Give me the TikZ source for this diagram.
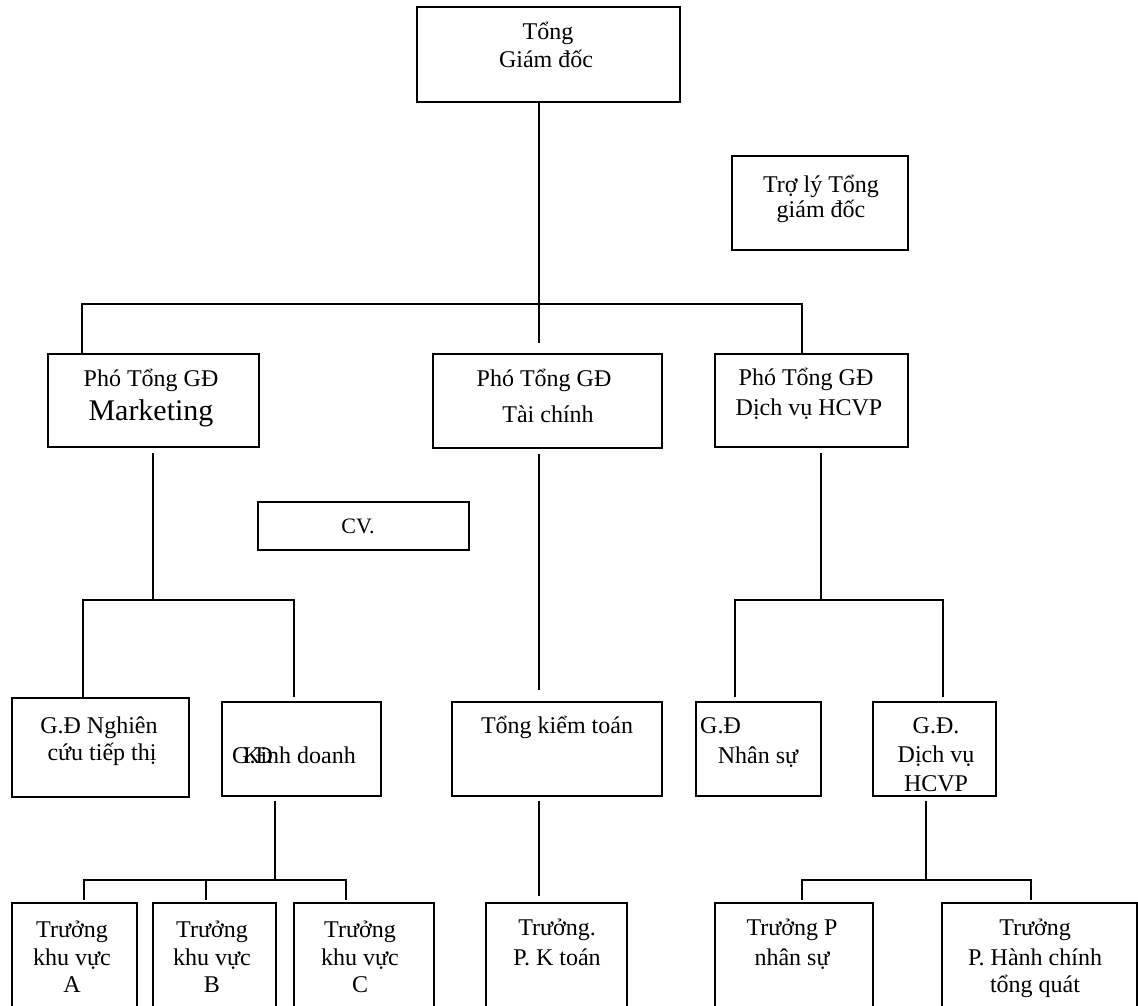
\documentclass[tikz,border=0pt]{standalone}
\usepackage{fontspec}
\setmainfont{Liberation Serif}
\begin{document}
\begin{tikzpicture}[x=1pt,y=-1pt,
  box/.style={draw, line width=1.8pt, inner sep=0pt, outer sep=0pt},
  con/.style={line width=1.8pt},
  txt/.style={inner sep=0pt, anchor=base, font=\fontsize{24}{28}\selectfont},
  txtl/.style={txt, anchor=base west},
  big/.style={txt, font=\fontsize{30}{34}\selectfont}]
\useasboundingbox (0,0) rectangle (1138,1006);
\fill[white] (0,0) rectangle (1138,1006);
\clip (0,0) rectangle (1138,1006);

% ---- boxes ----
\node[box, minimum width=263pt, minimum height=95pt] (top) at (548.5,54.5) {};
\node[box, minimum width=176pt, minimum height=94pt] (troly) at (820,203) {};
\node[box, minimum width=211pt, minimum height=93pt] (mkt) at (153.5,400.5) {};
\node[box, minimum width=229pt, minimum height=94pt] (tc) at (547.5,401) {};
\node[box, minimum width=193pt, minimum height=93pt] (hcvp) at (811.5,400.5) {};
\node[box, minimum width=211pt, minimum height=48pt] (cv) at (363.5,526) {};
\node[box, minimum width=177pt, minimum height=99pt] (ncu) at (100.5,747.5) {};
\node[box, minimum width=159pt, minimum height=94pt] (kd) at (301.5,749) {};
\node[box, minimum width=210pt, minimum height=94pt] (tkt) at (557,749) {};
\node[box, minimum width=125pt, minimum height=94pt] (ns) at (758.5,749) {};
\node[box, minimum width=123pt, minimum height=94pt] (dv) at (934.5,749) {};
\node[box, minimum width=125pt, minimum height=127pt] (bA) at (74.5,966.5) {};
\node[box, minimum width=123pt, minimum height=127pt] (bB) at (214.5,966.5) {};
\node[box, minimum width=140pt, minimum height=127pt] (bC) at (364,966.5) {};
\node[box, minimum width=141pt, minimum height=127pt] (bKT) at (556.5,966.5) {};
\node[box, minimum width=158pt, minimum height=127pt] (bPNS) at (794,966.5) {};
\node[box, minimum width=195pt, minimum height=127pt] (bHC) at (1039.5,966.5) {};

% ---- texts ----
\node[txt] (t-top1) at (548,40) {Tổng};
\node[txt] (t-top2) at (546,68) {Giám đốc};
\node[txt] (t-tl1) at (821,192) {Trợ lý Tổng};
\node[txt] (t-tl2) at (821,217) {giám đốc};
\node[txt] (t-mk1) at (151,386) {Phó Tổng GĐ};
\node[big] (t-mk2) at (151,420) {Marketing};
\node[txt] (t-tc1) at (544,386) {Phó Tổng GĐ};
\node[txt] (t-tc2) at (548,422) {Tài chính};
\node[txt] (t-hc1) at (806,385) {Phó Tổng GĐ};
\node[txt] (t-hc2) at (809,415) {Dịch vụ HCVP};
\node[txt, font=\fontsize{22}{26}\selectfont] (t-cv) at (358,533) {CV.};
\node[txt] (t-nc1) at (99,733) {G.Đ Nghiên};
\node[txt] (t-nc2) at (102,760) {cứu tiếp thị};
\node[txtl] (t-kd1) at (232,763) {G.Đ};
\node[txtl] (t-kd2) at (243,763) {Kinh doanh};
\node[txt] (t-tkt) at (557,733) {Tổng kiểm toán};
\node[txtl] (t-ns1) at (700,733) {G.Đ};
\node[txt] (t-ns2) at (758,763) {Nhân sự};
\node[txt] (t-dv1) at (936,733) {G.Đ.};
\node[txt] (t-dv2) at (936,762) {Dịch vụ};
\node[txt] (t-dv3) at (936,791) {HCVP};
\node[txt] (t-a1) at (72,937) {Trưởng};
\node[txt] (t-a2) at (72,965) {khu vực};
\node[txt] (t-a3) at (72,992) {A};
\node[txt] (t-b1) at (212,937) {Trưởng};
\node[txt] (t-b2) at (212,965) {khu vực};
\node[txt] (t-b3) at (212,992) {B};
\node[txt] (t-c1) at (360,937) {Trưởng};
\node[txt] (t-c2) at (360,965) {khu vực};
\node[txt] (t-c3) at (360,992) {C};
\node[txt] (t-kt1) at (557,935) {Trưởng.};
\node[txt] (t-kt2) at (557,965) {P. K toán};
\node[txt] (t-pn1) at (792,935) {Trưởng P};
\node[txt] (t-pn2) at (792,965) {nhân sự};
\node[txt] (t-ph1) at (1035,935) {Trưởng};
\node[txt] (t-ph2) at (1035,965) {P. Hành chính};
\node[txt] (t-ph3) at (1035,992) {tổng quát};

% ---- connectors ----
\coordinate (b1) at (539,304);
\coordinate (bL) at (82,304);
\coordinate (bR) at (802,304);
\draw[con] (top.south -| b1) -- (b1);
\draw[con] (mkt.north -| bL) |- (bR) -- (hcvp.north -| bR);
\draw[con, shorten >=11pt] (b1) -- (tc.north -| b1);

\coordinate (m1) at (153,600);
\coordinate (mL) at (83,600);
\coordinate (mR) at (294,600);
\draw[con, shorten <=6pt] (mkt.south -| m1) -- (m1);
\draw[con, shorten >=5pt] (ncu.north -| mL) |- (mR) -- (kd.north -| mR);

\coordinate (tcx) at (539,600);
\draw[con, shorten <=6pt, shorten >=12pt] (tc.south -| tcx) -- (tkt.north -| tcx);

\coordinate (h1) at (821,600);
\coordinate (hL) at (735,600);
\coordinate (hR) at (943,600);
\draw[con, shorten <=6pt] (hcvp.south -| h1) -- (h1);
\draw[con, shorten <=5pt, shorten >=5pt] (ns.north -| hL) |- (hR) -- (dv.north -| hR);

\coordinate (k1) at (275,880);
\coordinate (kL) at (84,880);
\coordinate (kM) at (206,880);
\coordinate (kR) at (346,880);
\draw[con, shorten <=5pt] (kd.south -| k1) -- (k1);
\draw[con, shorten <=3pt, shorten >=3pt] (bA.north -| kL) |- (kR) -- (bC.north -| kR);
\draw[con, shorten >=3pt] (kM) -- (bB.north -| kM);
\draw[con, shorten <=5pt, shorten >=7pt] (tkt.south -| tcx) -- (bKT.north -| tcx);

\coordinate (d1) at (926,880);
\coordinate (dL) at (802,880);
\coordinate (dR) at (1031,880);
\draw[con, shorten <=5pt] (dv.south -| d1) -- (d1);
\draw[con, shorten <=3pt, shorten >=3pt] (bPNS.north -| dL) |- (dR) -- (bHC.north -| dR);
\end{tikzpicture}
\end{document}
